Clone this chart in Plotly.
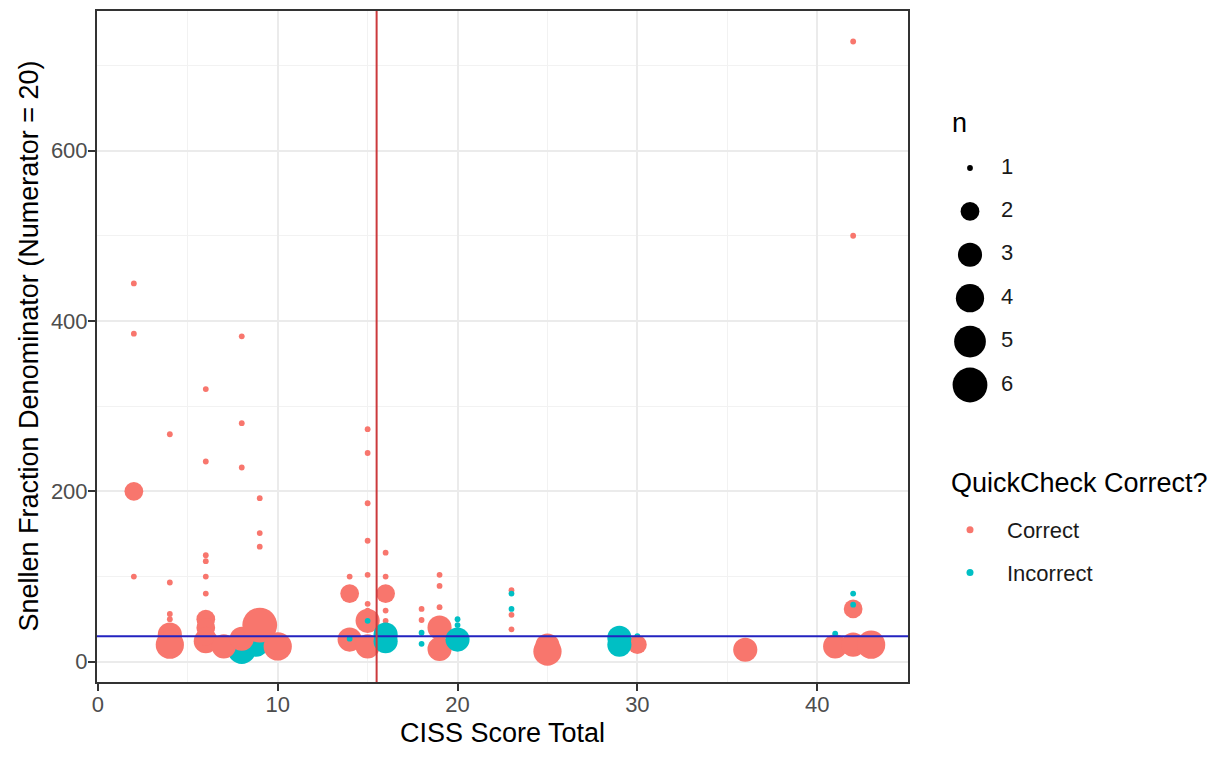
import numpy as np
import plotly.graph_objects as go

# ---------------- data ----------------
# drawing order matters: points later in the lists are drawn on top
ciss = [8, 8.8, 30,
        2, 2, 2, 2,
        4, 4, 4, 4, 4, 4,
        6, 6, 6, 6, 6, 6, 6, 6, 6,
        7,
        8, 8, 8, 8,
        9, 9, 9, 9,
        10,
        14, 14, 14,
        15, 15, 15, 15, 15, 15, 15, 15, 15,
        16, 16, 16, 16, 16,
        18, 18,
        19, 19, 19, 19, 19,
        23, 23, 23,
        25, 25,
        30,
        36,
        41,
        42, 42, 42, 42,
        43,
        6, 14, 15, 16, 16, 18, 18, 20, 20, 20, 23, 23, 29, 29, 41, 42, 42]
snellen = [14, 20, 30,
           444, 385, 200, 100,
           267, 93, 56, 50, 32, 20,
           320, 235, 125, 118, 100, 80, 50, 40, 24,
           18,
           382, 280, 228, 27,
           192, 151, 135, 43,
           18,
           100, 80, 26,
           273, 245, 186, 142, 102, 68, 60, 48, 18,
           128, 100, 80, 60, 48,
           62, 49,
           102, 89, 64, 40, 15,
           84, 55, 38,
           19, 12,
           20,
           14,
           18,
           728, 500, 62, 20,
           20,
           30, 27, 48, 32, 24, 34, 21, 50, 43, 26, 80, 62, 28, 20, 33, 80, 67]
n_count = [4, 3, 1,
           1, 1, 2, 1,
           1, 1, 1, 1, 3, 4,
           1, 1, 1, 1, 1, 1, 2, 2, 3,
           3,
           1, 1, 1, 3,
           1, 1, 1, 6,
           4,
           1, 2, 3,
           1, 1, 1, 1, 1, 1, 1, 3, 3,
           1, 1, 2, 1, 1,
           1, 1,
           1, 1, 1, 3, 3,
           1, 1, 1,
           3, 4,
           2,
           3,
           3,
           1, 1, 2, 3,
           4,
           2, 1, 1, 3, 3, 1, 1, 1, 1, 3, 1, 1, 3, 3, 1, 1, 1]
quick = (["Incorrect"] * 3
         + ["Correct"] * 67
         + ["Incorrect"] * 17)

groups = ["Correct", "Incorrect"]
n_levels = [1, 2, 3, 4, 5, 6]
ref_y = 30      # horizontal reference (20/30)
ref_x = 15.5    # vertical reference (CISS cut-off)

x_title = "CISS Score Total"
y_title = "Snellen Fraction Denominator (Numerator = 20)"
size_title = "n"
color_title = "QuickCheck Correct?"

# ---------------- styling ----------------
COLORS = {"Correct": "#F8766D", "Incorrect": "#00BFC4"}
FONT = "Liberation Sans, Arial, sans-serif"
W, H = 1227, 760
ML, MR, MT, MB = 97, 10, 11, 78
PW, PH = W - ML - MR, H - MT - MB
PANEL_RIGHT = 908
LEG_LEFT = 916          # left edge of the size-key axes (px)
KEY_X, LABEL_X = 970, 1001


def size_px(n):
    n = np.asarray(n, dtype=float)
    lo, hi = min(n_levels), max(n_levels)
    return 5.8 * (1 + 5 * np.sqrt((n - lo) / (hi - lo)))


def px_x(p):
    return (p - ML) / PW


def px_y(p):
    return (MT + PH - p) / PH


def expand(vals, frac=0.05):
    lo, hi = min(vals), max(vals)
    d = (hi - lo) * frac
    return [lo - d, hi + d]


x_range = expand(ciss)
y_range = expand(snellen)

fig = go.Figure()

fig.add_trace(go.Scatter(
    x=ciss, y=snellen, mode="markers",
    marker=dict(size=size_px(n_count),
                color=[COLORS[q] for q in quick],
                opacity=1, line=dict(width=0)),
    showlegend=False, hoverinfo="x+y",
))

# reference lines (drawn over the points, clipped to the panel)
fig.add_trace(go.Scatter(
    x=x_range, y=[ref_y, ref_y], mode="lines",
    line=dict(color="#2323C0", width=2), showlegend=False, hoverinfo="skip",
))
fig.add_trace(go.Scatter(
    x=[ref_x, ref_x], y=y_range, mode="lines",
    line=dict(color="#CC3A3C", width=2), showlegend=False, hoverinfo="skip",
))

# colour legend entries
for i, g in enumerate(groups):
    fig.add_trace(go.Scatter(
        x=[None], y=[None], mode="markers", name=g,
        marker=dict(size=7, color=COLORS[g], opacity=1),
        legendgroup=g, showlegend=True,
    ))

# size legend drawn in its own small axes (size scale keys)
first_px, step_px = 168, 43.4
top_px, bot_px = 100, 400
y2_range = [1 + (bot_px - first_px) / step_px, 1 + (top_px - first_px) / step_px]
fig.add_trace(go.Scatter(
    x=[KEY_X - LEG_LEFT] * len(n_levels), y=n_levels, xaxis="x2", yaxis="y2",
    mode="markers", cliponaxis=False,
    marker=dict(size=size_px(n_levels), color="#000000", opacity=1,
                line=dict(width=0)),
    showlegend=False, hoverinfo="skip",
))
fig.add_trace(go.Scatter(
    x=[LABEL_X - LEG_LEFT] * len(n_levels), y=n_levels, xaxis="x2", yaxis="y2",
    mode="text", cliponaxis=False,
    text=[str(v) for v in n_levels], textposition="middle right",
    textfont=dict(family=FONT, size=22, color="#1a1a1a"),
    showlegend=False, hoverinfo="skip",
))

axis_common = dict(
    showline=True, mirror=True, linecolor="#333333", linewidth=2,
    ticks="outside", ticklen=7, tickwidth=1.5, tickcolor="#333333",
    tickfont=dict(family=FONT, size=22, color="#4D4D4D"),
    showgrid=True, gridcolor="#EBEBEB", gridwidth=1.5,
    zeroline=False,
)

fig.update_layout(
    width=W, height=H,
    margin=dict(l=ML, r=MR, t=MT, b=MB, autoexpand=False),
    paper_bgcolor="white", plot_bgcolor="white",
    font=dict(family=FONT, color="black"),
    xaxis=dict(
        domain=[0, px_x(PANEL_RIGHT)], range=x_range, dtick=10, tick0=0,
        minor=dict(showgrid=True, dtick=5, tick0=0, gridcolor="#F2F2F2", gridwidth=1),
        ticklabelstandoff=-5,
        **axis_common,
    ),
    yaxis=dict(
        domain=[0, 1], range=y_range, dtick=200, tick0=0,
        minor=dict(showgrid=True, dtick=100, tick0=0, gridcolor="#F2F2F2", gridwidth=1),
        ticklabelstandoff=-4,
        **axis_common,
    ),
    xaxis2=dict(domain=[px_x(LEG_LEFT), 1.0], range=[0, ML + PW - LEG_LEFT],
                visible=False, fixedrange=True),
    yaxis2=dict(domain=[px_y(bot_px), px_y(top_px)], range=y2_range, visible=False,
                fixedrange=True, anchor="x2"),
    legend=dict(
        x=px_x(933), y=px_y(509), xanchor="left", yanchor="top",
        font=dict(family=FONT, size=22, color="#1a1a1a"),
        itemwidth=64, tracegroupgap=11,
        bgcolor="rgba(0,0,0,0)", borderwidth=0,
    ),
    annotations=[
        dict(text=x_title, xref="paper", yref="paper", x=px_x((ML + PANEL_RIGHT) / 2),
             y=px_y(733), xanchor="center", yanchor="middle", showarrow=False,
             font=dict(family=FONT, size=27, color="black")),
        dict(text=y_title, xref="paper", yref="paper", x=px_x(28),
             y=px_y(MT + PH / 2), xanchor="center", yanchor="middle", showarrow=False,
             textangle=-90, font=dict(family=FONT, size=27, color="black")),
        dict(text=size_title, xref="paper", yref="paper", x=px_x(950), y=px_y(123),
             xanchor="left", yanchor="middle", showarrow=False,
             font=dict(family=FONT, size=27, color="black")),
        dict(text=color_title, xref="paper", yref="paper", x=px_x(949), y=px_y(483),
             xanchor="left", yanchor="middle", showarrow=False,
             font=dict(family=FONT, size=27, color="black")),
    ],
)

fig.write_html("out.html",
               config={"displayModeBar": False},
               post_script="document.body.style.margin='0';"
                           "document.body.style.overflow='hidden';")
